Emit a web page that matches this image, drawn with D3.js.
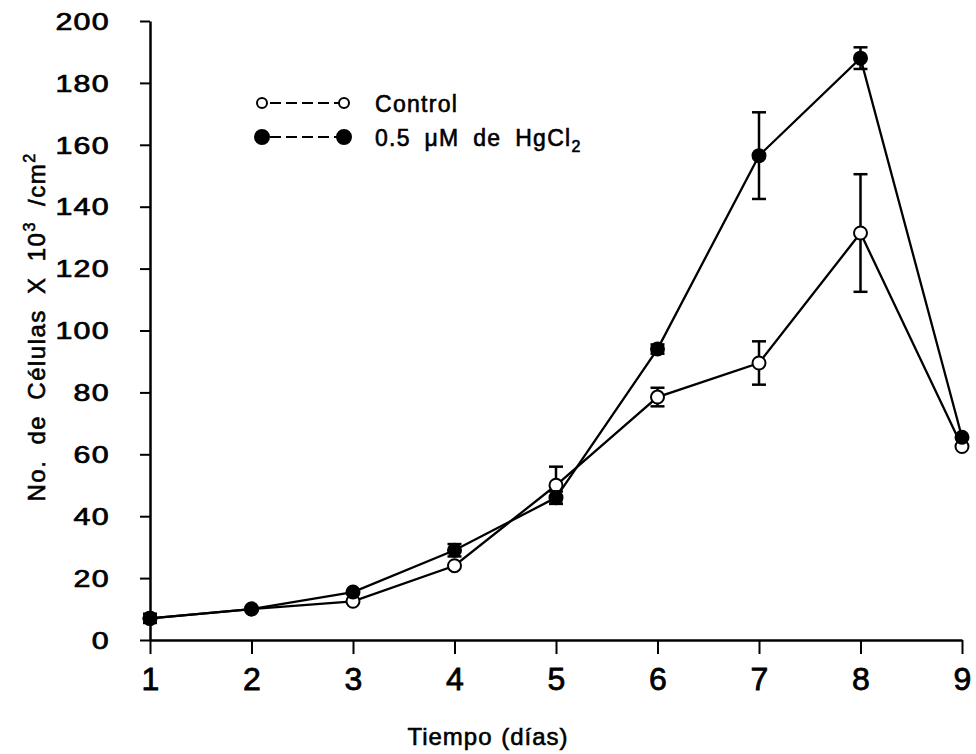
<!DOCTYPE html>
<html><head><meta charset="utf-8">
<script src="https://cdn.jsdelivr.net/npm/d3@7"></script>
<style>body{margin:0;background:#fff}svg{display:block}</style>
</head><body>
<svg id="c" width="976" height="754"></svg>
<script>
const days = [1,2,3,4,5,6,7,8,9];
const controlVals = [7, 10, 12.5, 24, 50, 78.5, 89.5, 131.5, 62.5];
const controlErr  = [0, 0, 0, 0, 6, 3, 7, 19, 0];
const hgVals = [7, 10, 15.5, 29, 46, 94, 156.5, 188, 65.5];
const hgErr  = [1.5, 0, 0, 2, 2, 1.5, 14, 3.5, 0];
const yTicks = [0,20,40,60,80,100,120,140,160,180,200];
const xTicks = [1,2,3,4,5,6,7,8,9];
const seriesNames = ["Control", "0.5 \u03BCM de HgCl"];

const svg = d3.select("#c");
const x = d3.scaleLinear().domain([1,9]).range([150,962]);
const y = d3.scaleLinear().domain([0,200]).range([640,21]);
const font = "'Liberation Sans', Arial, Helvetica, sans-serif";
const narrow = "'Liberation Sans Narrow', 'Liberation Sans', Arial, sans-serif";

// Y axis
const ya = svg.append("g").attr("transform","translate(150,0)")
  .call(d3.axisLeft(y).tickValues(yTicks).tickSize(10).tickSizeOuter(0));
ya.select(".domain").attr("stroke","#000").attr("stroke-width",2.5);
ya.selectAll(".tick line").attr("stroke","#000").attr("stroke-width",2);
const ySX = 1.32;
ya.selectAll(".tick text").attr("font-family",font).attr("font-size",23).attr("fill","#000")
  .attr("stroke","#000").attr("stroke-width",0.7).attr("letter-spacing","1px")
  .attr("x",-40/ySX).attr("transform",`scale(${ySX},1)`).attr("dy","0.36em");

// X axis
const xa = svg.append("g").attr("transform","translate(0,640)")
  .call(d3.axisBottom(x).tickValues(xTicks).tickSize(14).tickPadding(13).tickSizeOuter(0).tickFormat(d3.format("d")));
xa.select(".domain").attr("stroke","#000").attr("stroke-width",2.5);
xa.selectAll(".tick line").attr("stroke","#000").attr("stroke-width",2);
xa.selectAll(".tick text").attr("font-family",narrow).attr("font-size",32).attr("fill","#000")
  .attr("stroke","#000").attr("stroke-width",0.8);

// Axis titles
svg.append("text").attr("x",488).attr("y",745).attr("text-anchor","middle")
  .attr("font-family",narrow).attr("font-size",24).attr("stroke","#000").attr("stroke-width",0.6)
  .attr("letter-spacing","1px").attr("word-spacing","1px")
  .text("Tiempo (días)");
const yl = svg.append("text").attr("transform","translate(45,327) rotate(-90)")
  .attr("text-anchor","middle").attr("font-family",font).attr("font-size",24)
  .attr("stroke","#000").attr("stroke-width",0.6).attr("letter-spacing","1.5px").attr("word-spacing","7px");
yl.append("tspan").text("No. de Células X 10");
yl.append("tspan").attr("dy",-10).attr("font-size",16).text("3");
yl.append("tspan").attr("dy",10).text(" /cm");
yl.append("tspan").attr("dy",-10).attr("font-size",16).text("2");

function drawSeries(vals, errs, filled){
  const pts = days.map((d,i)=>({d, v:vals[i], e:errs[i]}));
  const g = svg.append("g");
  g.append("path").datum(pts)
    .attr("d", d3.line().x(p=>x(p.d)).y(p=>y(p.v)))
    .attr("fill","none").attr("stroke","#000").attr("stroke-width",2.3);
  const eb = g.selectAll(".eb").data(pts.filter(p=>p.e>0)).enter().append("g");
  eb.append("line").attr("x1",p=>x(p.d)).attr("x2",p=>x(p.d))
    .attr("y1",p=>y(p.v+p.e)).attr("y2",p=>y(p.v-p.e)).attr("stroke","#000").attr("stroke-width",2.5);
  [1,-1].forEach(s=>{
    eb.append("line").attr("x1",p=>x(p.d)-7).attr("x2",p=>x(p.d)+7)
      .attr("y1",p=>y(p.v+s*p.e)).attr("y2",p=>y(p.v+s*p.e)).attr("stroke","#000").attr("stroke-width",2.5);
  });
  g.selectAll("circle").data(pts).enter().append("circle")
    .attr("cx",p=>x(p.d)).attr("cy",p=>y(p.v)).attr("r",6.5)
    .attr("fill",filled?"#000":"#fff").attr("stroke","#000").attr("stroke-width",2);
}
drawSeries(controlVals, controlErr, false);
drawSeries(hgVals, hgErr, true);

// Legend
const leg = [{name:seriesNames[0], filled:false, yy:103},{name:seriesNames[1], filled:true, yy:137}];
leg.forEach(l=>{
  const g = svg.append("g");
  g.append("line").attr("x1",262).attr("x2",344).attr("y1",l.yy).attr("y2",l.yy)
    .attr("stroke","#000").attr("stroke-width",2).attr("stroke-dasharray","11,5").attr("stroke-dashoffset",-8);
  [262,344].forEach(cx=>g.append("circle").attr("cx",cx).attr("cy",l.yy).attr("r",l.filled?7:5)
    .attr("fill",l.filled?"#000":"#fff").attr("stroke","#000").attr("stroke-width",2));
  const t = g.append("text").attr("x",375).attr("y",l.yy+9).attr("font-family",font)
    .attr("font-size",23).attr("stroke","#000").attr("stroke-width",0.6)
    .attr("letter-spacing","1.3px").attr("word-spacing","6px");
  t.append("tspan").text(l.name);
  if(l.filled) t.append("tspan").attr("dy",6).attr("font-size",16).text("2");
});
</script>
</body></html>
